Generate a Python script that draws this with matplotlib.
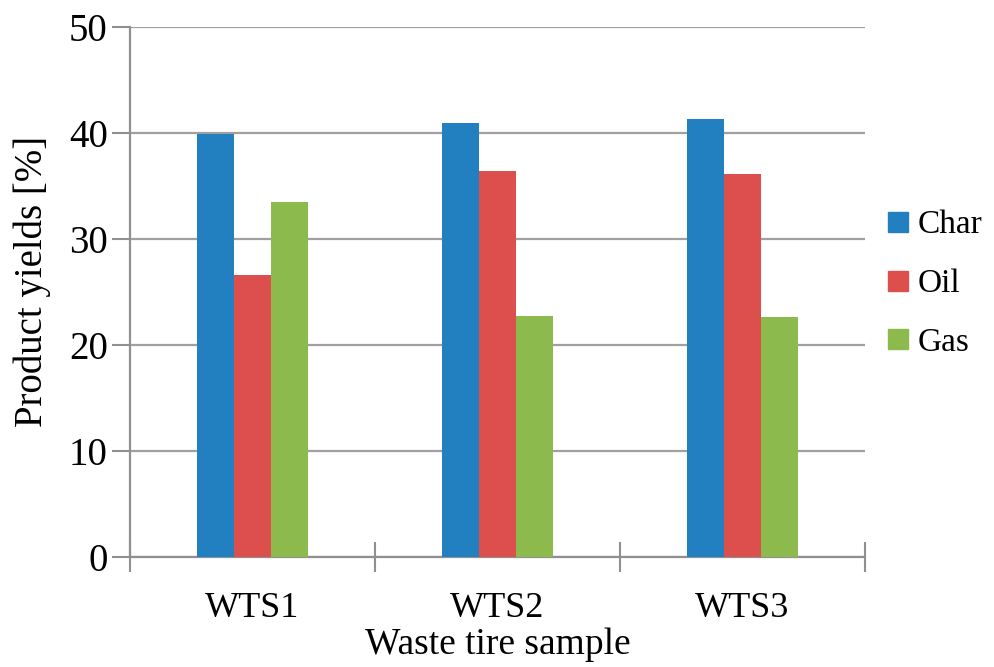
import matplotlib
matplotlib.use("Agg")
import matplotlib.pyplot as plt
import numpy as np
from matplotlib.lines import Line2D

categories = ["WTS1", "WTS2", "WTS3"]
char_vals = [39.9, 40.9, 41.3]
oil_vals = [26.6, 36.4, 36.1]
gas_vals = [33.5, 22.7, 22.6]
series_names = ["Char", "Oil", "Gas"]
colors = ["#2280c0", "#dc4f4c", "#8dba4c"]
yticks = [0, 10, 20, 30, 40, 50]

plt.rcParams["font.family"] = ["Liberation Serif", "DejaVu Serif"]

fig = plt.figure(figsize=(9.95, 6.67), dpi=100)
ax = fig.add_axes([130/995, 1-557/667, 735/995, 530/667])

x = np.arange(len(categories))
w = 0.151
for i, (vals, c) in enumerate(zip([char_vals, oil_vals, gas_vals], colors)):
    ax.bar(x + (i-1)*w, vals, width=w, color=c, zorder=3, linewidth=0)

ax.set_xlim(-0.5, len(categories)-0.5)
ax.set_ylim(0, 50)
ax.set_yticks(yticks)
ax.set_yticklabels([str(t) for t in yticks])
ax.yaxis.grid(True, color="#a0a0a0", linewidth=1.6, zorder=0)
ax.set_axisbelow(True)

# category boundary ticks
ax.set_xticks(np.arange(-0.5, len(categories), 1.0))
ax.set_xticklabels([])
ax.set_xticks(x, minor=True)
ax.set_xticklabels(categories, minor=True)
ax.tick_params(axis="x", which="major", direction="inout", length=22, width=1.5, color="#909090")
ax.tick_params(axis="x", which="minor", length=0, pad=25, labelsize=26)
ax.tick_params(axis="y", direction="out", length=13, width=1.5, color="#909090", labelsize=28, pad=3)

for s in ["top", "right"]:
    ax.spines[s].set_visible(False)
for s in ["left", "bottom"]:
    ax.spines[s].set_color("#909090")
    ax.spines[s].set_linewidth(1.6)

ax.set_xlabel("Waste tire sample", fontsize=27, labelpad=2)
ax.set_ylabel("Product yields [%]", fontsize=28)
ax.yaxis.set_label_coords(-0.108, 0.52)

handles = [Line2D([], [], marker="s", linestyle="none", markersize=15,
                  markerfacecolor=c, markeredgecolor=c) for c in colors]
fig.legend(handles, series_names, loc="center left", bbox_to_anchor=(886/995, 1-284/667),
           frameon=False, fontsize=24, handlelength=0.7, handletextpad=0.25,
           labelspacing=0.85, borderpad=0, borderaxespad=0)

fig.savefig("out.png", dpi=100)
